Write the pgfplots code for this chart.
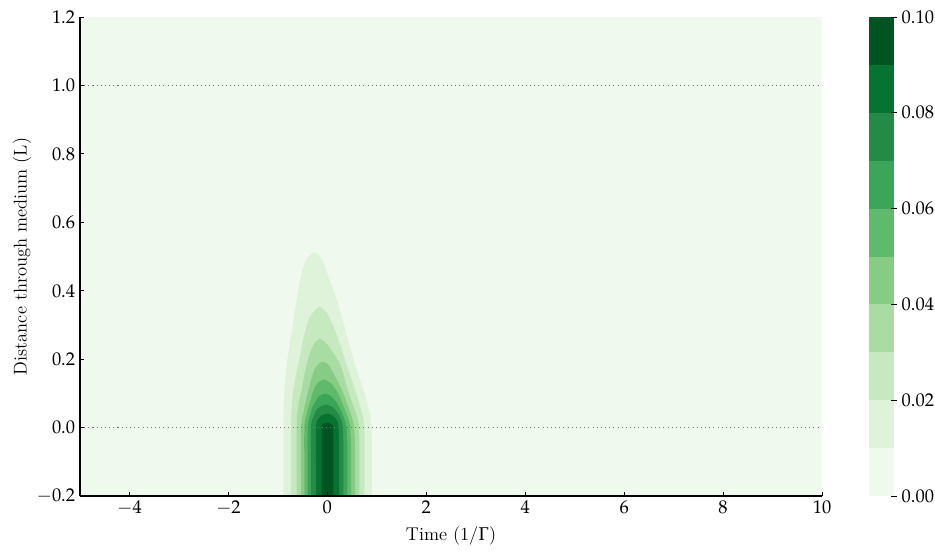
\documentclass[border=0pt]{standalone}
\usepackage{mathpazo}
\usepackage{pgfplots}
\pgfplotsset{compat=1.18}

% Greens, 10 bands
\definecolor{c0}{RGB}{240,249,237}
\definecolor{c1}{RGB}{223,243,218}
\definecolor{c2}{RGB}{199,233,192}
\definecolor{c3}{RGB}{169,220,162}
\definecolor{c4}{RGB}{134,204,133}
\definecolor{c5}{RGB}{96,186,108}
\definecolor{c6}{RGB}{59,165,88}
\definecolor{c7}{RGB}{35,139,69}
\definecolor{c8}{RGB}{7,115,49}
\definecolor{c9}{RGB}{0,84,34}

\pgfplotsset{
  every axis/.append style={font=\fontsize{13.3}{15}\selectfont},
  myaxis/.style={
    scale only axis,
    tick align=inside,
    major tick length=3pt,
    axis line style={line width=0.8pt},
    every tick/.style={black, line width=0.6pt},
  },
  band/.style={fill=#1, draw=none, smooth, tension=0.45},
}

\begin{document}
\begin{tikzpicture}
\useasboundingbox (-57.6pt,-40.32pt) rectangle (615.6pt,357.12pt);

\begin{axis}[
    myaxis,
    axis on top,
    at={(0,0)}, anchor=south west,
    width=534.24pt, height=344.88pt,
    xmin=-5, xmax=10,
    ymin=-0.2, ymax=1.2,
    axis x line*=bottom,
    axis y line*=left,
    xtick={-4,-2,0,2,4,6,8,10},
    ytick={-0.2,0,0.2,0.4,0.6,0.8,1.0,1.2},
    yticklabel style={/pgf/number format/fixed,/pgf/number format/fixed zerofill,/pgf/number format/precision=1},
    xlabel={Time (1/$\Gamma$)},
    ylabel={Distance through medium (L)},
    xlabel style={at={(axis description cs:0.5,-0.083)}, anchor=center},
    ylabel style={at={(axis description cs:-0.078,0.5)}, anchor=center},
    axis background/.style={fill=c0},
]
% level 0.01
\addplot[band=c1] coordinates {
  (-0.89,-0.3)(-0.89,-0.15)(-0.89,0)(-0.885,0.053)(-0.865,0.111)(-0.82,0.184)(-0.73,0.272)
  (-0.62,0.374)(-0.52,0.45)(-0.42,0.492)(-0.26,0.513)
  (-0.12,0.495)(0.0,0.45)(0.19,0.374)(0.39,0.272)(0.56,0.184)
  (0.73,0.111)(0.84,0.053)(0.89,0.015)(0.90,-0.05)(0.90,-0.15)(0.90,-0.3)
} -- cycle;
% level 0.02
\addplot[band=c2] coordinates {
  (-0.734,-0.3)(-0.734,-0.15)(-0.734,0)(-0.725,0.053)(-0.685,0.111)(-0.59,0.184)(-0.465,0.272)
  (-0.36,0.322)(-0.17,0.352)
  (0.0,0.333)(0.19,0.272)(0.39,0.184)(0.56,0.111)(0.68,0.053)
  (0.74,0.015)(0.748,-0.05)(0.748,-0.15)(0.748,-0.3)
} -- cycle;
% level 0.03
\addplot[band=c3] coordinates {
  (-0.619,-0.3)(-0.619,-0.15)(-0.619,0)(-0.60,0.053)(-0.52,0.111)(-0.42,0.184)
  (-0.29,0.240)(-0.15,0.259)
  (0.0,0.243)(0.26,0.184)(0.41,0.111)(0.55,0.053)(0.63,0.012)
  (0.647,-0.05)(0.647,-0.15)(0.647,-0.3)
} -- cycle;
% level 0.04
\addplot[band=c4] coordinates {
  (-0.532,-0.3)(-0.532,-0.15)(-0.532,0)(-0.47,0.053)(-0.38,0.111)(-0.26,0.170)
  (-0.11,0.192)
  (0.04,0.180)(0.29,0.111)(0.44,0.053)(0.53,0.012)
  (0.560,-0.05)(0.560,-0.15)(0.560,-0.3)
} -- cycle;
% level 0.05
\addplot[band=c5] coordinates {
  (-0.465,-0.3)(-0.465,-0.15)(-0.465,0)(-0.43,0.032)(-0.36,0.070)(-0.24,0.122)
  (-0.08,0.140)
  (0.08,0.128)(0.22,0.100)(0.36,0.050)(0.45,0.012)(0.479,-0.05)(0.479,-0.15)(0.479,-0.3)
} -- cycle;
% level 0.06
\addplot[band=c6] coordinates {
  (-0.396,-0.3)(-0.396,-0.15)(-0.396,0)(-0.36,0.030)(-0.30,0.060)(-0.18,0.090)
  (-0.05,0.099)
  (0.09,0.090)(0.22,0.066)(0.33,0.030)(0.385,0.005)(0.404,-0.05)(0.404,-0.15)(0.404,-0.3)
} -- cycle;
% level 0.07
\addplot[band=c7] coordinates {
  (-0.329,-0.3)(-0.329,-0.15)(-0.329,0)(-0.29,0.028)(-0.20,0.055)
  (-0.03,0.067)
  (0.13,0.057)(0.25,0.033)(0.31,0.005)(0.323,-0.05)(0.323,-0.15)(0.323,-0.3)
} -- cycle;
% level 0.08
\addplot[band=c8] coordinates {
  (-0.228,-0.3)(-0.228,-0.15)(-0.228,0)(-0.19,0.024)(-0.10,0.037)(-0.01,0.040)
  (0.09,0.037)(0.18,0.024)(0.228,0.004)(0.237,-0.05)(0.237,-0.15)(0.237,-0.3)
} -- cycle;
% level 0.09
\addplot[band=c9] coordinates {
  (-0.113,-0.3)(-0.113,-0.15)(-0.113,0)(-0.07,0.010)(0.005,0.014)
  (0.08,0.010)(0.118,0.002)(0.121,-0.05)(0.121,-0.15)(0.121,-0.3)
} -- cycle;

% medium edges
\addplot[black!55, line width=0.8pt, dash pattern=on 0.8pt off 2.2pt] coordinates {(-5,0)(10,0)};
\addplot[black!55, line width=0.8pt, dash pattern=on 0.8pt off 2.2pt] coordinates {(-5,1)(10,1)};
\end{axis}

% colorbar
\begin{axis}[
    myaxis,
    axis on top,
    at={(568.08pt,0)}, anchor=south west,
    width=18pt, height=344.88pt,
    xmin=0, xmax=1, ymin=0, ymax=0.1,
    hide x axis,
    axis y line*=right,
    y axis line style={draw=none},
    tick align=center,
    major tick length=4pt,
    ytick={0,0.02,0.04,0.06,0.08,0.1},
    yticklabel style={/pgf/number format/fixed,/pgf/number format/fixed zerofill,/pgf/number format/precision=2},
]
\addplot[fill=c0, draw=none] coordinates {(0,0)(1,0)(1,0.01)(0,0.01)} -- cycle;
\addplot[fill=c1, draw=none] coordinates {(0,0.01)(1,0.01)(1,0.02)(0,0.02)} -- cycle;
\addplot[fill=c2, draw=none] coordinates {(0,0.02)(1,0.02)(1,0.03)(0,0.03)} -- cycle;
\addplot[fill=c3, draw=none] coordinates {(0,0.03)(1,0.03)(1,0.04)(0,0.04)} -- cycle;
\addplot[fill=c4, draw=none] coordinates {(0,0.04)(1,0.04)(1,0.05)(0,0.05)} -- cycle;
\addplot[fill=c5, draw=none] coordinates {(0,0.05)(1,0.05)(1,0.06)(0,0.06)} -- cycle;
\addplot[fill=c6, draw=none] coordinates {(0,0.06)(1,0.06)(1,0.07)(0,0.07)} -- cycle;
\addplot[fill=c7, draw=none] coordinates {(0,0.07)(1,0.07)(1,0.08)(0,0.08)} -- cycle;
\addplot[fill=c8, draw=none] coordinates {(0,0.08)(1,0.08)(1,0.09)(0,0.09)} -- cycle;
\addplot[fill=c9, draw=none] coordinates {(0,0.09)(1,0.09)(1,0.1)(0,0.1)} -- cycle;
\end{axis}
\end{tikzpicture}
\end{document}
